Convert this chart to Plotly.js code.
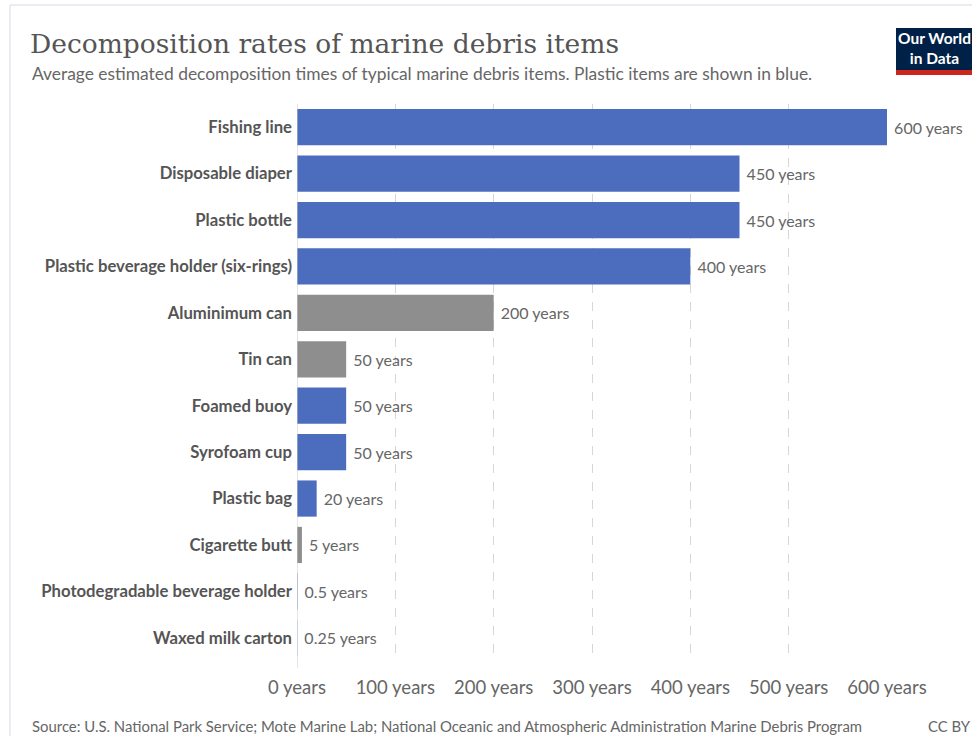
<!DOCTYPE html>
<html><head><meta charset="utf-8">
<script src="https://cdn.plot.ly/plotly-3.0.1.min.js"></script>
<style>html,body{margin:0;padding:0;background:#fff}#chart{width:972px;height:736px}</style>
</head><body><div id="chart"></div>
<script>
const categories = ["Fishing line","Disposable diaper","Plastic bottle","Plastic beverage holder (six-rings)","Aluminimum can","Tin can","Foamed buoy","Syrofoam cup","Plastic bag","Cigarette butt","Photodegradable beverage holder","Waxed milk carton"];
const years = [600,450,450,400,200,50,50,50,20,5,0.5,0.25];
const isPlastic = [true,true,true,true,false,false,true,true,true,false,true,true];
const valueLabels = ["600 years","450 years","450 years","400 years","200 years","50 years","50 years","50 years","20 years","5 years","0.5 years","0.25 years"];
const tickVals = [0,100,200,300,400,500,600];
const tickText = ["0 years","100 years","200 years","300 years","400 years","500 years","600 years"];

const W=972,H=736, L=297, R=887, T=104, B=661;
const px = x => (x-L)/(R-L);
const py = y => 1-(y-T)/(B-T);
const BLUE="#4c6dbd", GRAY="#8e8e8e";

const trace = {
  type:'bar', orientation:'h', y:categories, x:years,
  marker:{color:isPlastic.map(p=>p?BLUE:GRAY)},
  text:valueLabels, texttemplate:'\u00a0%{text}', textposition:'outside', cliponaxis:false,
  textfont:{family:'Lato', size:16, color:'#666'},
  hoverinfo:'none'
};

const layout = {
  width:W, height:H, margin:{l:L, r:W-R, t:T, b:H-B},
  paper_bgcolor:'#fff', plot_bgcolor:'#fff', showlegend:false, bargap:0.22,
  font:{family:'Lato', color:'#666'},
  title:{text:'Decomposition rates of marine debris items', x:30/W, xanchor:'left', xref:'container',
         y:1-44/H, yanchor:'middle', yref:'container',
         font:{family:'DejaVu Serif', size:26.5, color:'#555'}},
  xaxis:{range:[0,600], tickvals:tickVals, ticktext:tickText, showgrid:true, griddash:'dash',
         gridcolor:'#d6d6d6', gridwidth:1, zeroline:false, showline:false, ticks:'',
         tickfont:{family:'Lato', size:18.5, color:'#666'}, ticklabelstandoff:13, fixedrange:true},
  yaxis:{autorange:'reversed', ticks:'', showline:false, showgrid:false,
         tickfont:{family:'Lato', size:16.7, color:'#555', weight:'bold'}, ticklabelstandoff:4, fixedrange:true},
  shapes:[
    {type:'line', xref:'paper', yref:'paper', x0:px(10), x1:px(972), y0:py(5), y1:py(5), line:{color:'#e4e4ec', width:1.5}},
    {type:'line', xref:'paper', yref:'paper', x0:px(10), x1:px(10), y0:py(5), y1:py(736), line:{color:'#e4e4ec', width:1.5}},
    {type:'line', xref:'x', yref:'paper', x0:0, x1:0, y0:py(668), y1:1, line:{color:'#cccccc', width:1}},
    {type:'rect', xref:'paper', yref:'paper', x0:px(896), x1:px(972), y0:py(70), y1:py(28), fillcolor:'#002147', line:{width:0}},
    {type:'rect', xref:'paper', yref:'paper', x0:px(896), x1:px(972), y0:py(75), y1:py(70), fillcolor:'#ce261e', line:{width:0}}
  ],
  annotations:[
    {text:'Average estimated decomposition times of typical marine debris items. Plastic items are shown in blue.',
     xref:'paper', yref:'paper', x:px(30), y:py(73), xanchor:'left', yanchor:'middle', showarrow:false,
     font:{family:'Lato', size:17.4, color:'#666'}},
    {text:'Our World<br>in Data', xref:'paper', yref:'paper', x:px(934), y:py(48), xanchor:'center', yanchor:'middle',
     showarrow:false, align:'center', font:{family:'Lato', size:15.5, color:'#fff', weight:'bold'}},
    {text:'Source: U.S. National Park Service; Mote Marine Lab; National Oceanic and Atmospheric Administration Marine Debris Program',
     xref:'paper', yref:'paper', x:px(30), y:py(726), xanchor:'left', yanchor:'middle', showarrow:false,
     font:{family:'Lato', size:14.9, color:'#666'}},
    {text:'CC BY', xref:'paper', yref:'paper', x:px(926), y:py(726), xanchor:'left', yanchor:'middle', showarrow:false,
     font:{family:'Lato', size:14.9, color:'#666'}}
  ]
};
Plotly.newPlot('chart',[trace],layout,{displayModeBar:false, staticPlot:true});
</script></body></html>
